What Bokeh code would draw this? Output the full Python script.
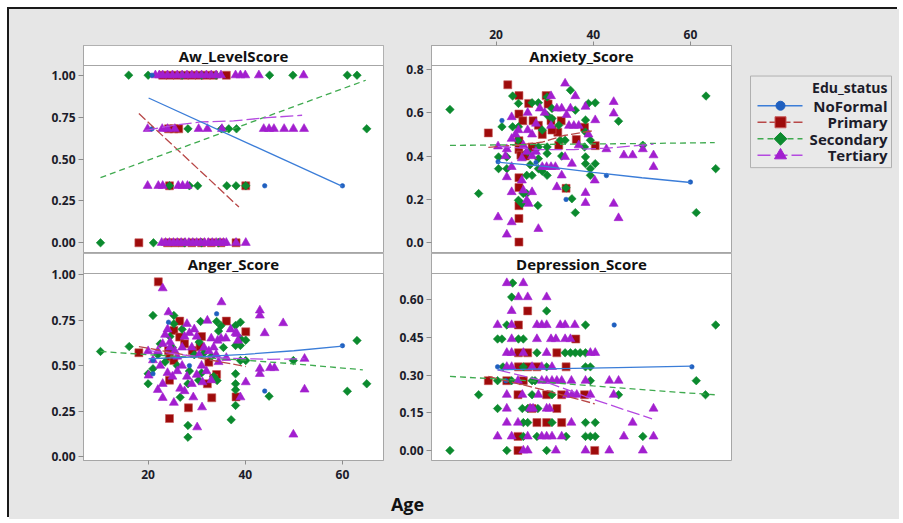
from bokeh.plotting import figure
from bokeh.models import Range1d, FixedTicker, PrintfTickFormatter
from bokeh.layouts import row, column
from bokeh.core.properties import value
from bokeh.embed import file_html
from bokeh.resources import INLINE
import math

# ---------------- data ----------------
GROUPS = ["NoFormal", "Primary", "Secondary", "Tertiary"]
LEGEND_TITLE = "Edu_status"
X_LABEL = "Age"
PANEL_TITLES = ["Aw_LevelScore", "Anxiety_Score", "Anger_Score", "Depression_Score"]
X_TICKS = [20, 40, 60]
AW_TICKS = [0.0, 0.25, 0.5, 0.75, 1.0]
AX_TICKS = [0.0, 0.2, 0.4, 0.6, 0.8]
AN_TICKS = [0.0, 0.25, 0.5, 0.75, 1.0]
DP_TICKS = [0.0, 0.15, 0.30, 0.45, 0.60]

# Aw_LevelScore (age, score)
AW_NOFORMAL = [(20.8, 1.0), (20.8, 0.68), (44.0, 0.34), (60.0, 0.34)]
AW_PRIMARY = [(23.0, 1.0), (24.5, 1.0), (26.0, 1.0), (27.5, 1.0), (29.0, 1.0), (30.5, 1.0), (32.0, 1.0),
              (33.5, 1.0), (36.1, 1.0), (24.2, 0.68), (25.3, 0.68), (26.3, 0.68), (24.4, 0.34), (40.1, 0.34),
              (18.1, 0.0), (24.0, 0.0), (25.5, 0.0), (27.0, 0.0), (29.0, 0.0), (31.0, 0.0), (33.0, 0.0),
              (35.0, 0.0), (38.1, 0.0)]
AW_SECONDARY = [(16.0, 1.0), (20.0, 1.0), (27.0, 1.0), (31.0, 1.0), (34.0, 1.0), (45.0, 1.0), (49.8, 1.0),
                (61.0, 1.0), (63.0, 1.0), (28.2, 0.68), (35.1, 0.68), (36.6, 0.68), (38.2, 0.68), (65.0, 0.68),
                (24.4, 0.34), (28.5, 0.34), (30.2, 0.34), (36.2, 0.34), (38.1, 0.34), (40.1, 0.34),
                (10.2, 0.0), (21.1, 0.0), (27.5, 0.0), (31.0, 0.0), (34.5, 0.0)]
AW_TERTIARY = [(21.5, 1.0), (22.3, 1.0), (23.0, 1.0), (24.0, 1.0), (25.0, 1.0), (26.0, 1.0), (27.0, 1.0),
               (28.0, 1.0), (29.0, 1.0), (30.0, 1.0), (31.0, 1.0), (32.0, 1.0), (33.0, 1.0), (34.0, 1.0),
               (35.0, 1.0), (38.0, 1.0), (39.0, 1.0), (40.0, 1.0), (42.8, 1.0), (52.0, 1.0),
               (19.9, 0.68), (22.9, 0.68), (24.0, 0.68), (25.5, 0.68), (30.4, 0.68), (32.2, 0.68), (35.2, 0.68),
               (43.8, 0.68), (44.9, 0.68), (45.9, 0.68), (48.0, 0.68), (49.9, 0.68), (52.1, 0.68),
               (19.9, 0.34), (22.1, 0.34), (23.0, 0.34), (26.2, 0.34), (27.1, 0.34), (28.1, 0.34),
               (22.8, 0.0), (23.6, 0.0), (24.4, 0.0), (25.2, 0.0), (26.0, 0.0), (26.8, 0.0), (27.6, 0.0),
               (28.4, 0.0), (29.2, 0.0), (30.0, 0.0), (30.8, 0.0), (31.6, 0.0), (32.4, 0.0), (33.2, 0.0),
               (34.0, 0.0), (34.8, 0.0), (35.5, 0.0), (36.1, 0.0), (38.1, 0.0), (40.1, 0.0)]
AW_FIT_NOFORMAL = [(20.1, 0.864), (60.0, 0.337)]
AW_FIT_PRIMARY = [(18.1, 0.771), (38.7, 0.213)]
AW_FIT_SECONDARY = [(10.2, 0.389), (37.5, 0.680), (64.8, 0.970)]
AW_FIT_TERTIARY = [(19.4, 0.671), (25.3, 0.701), (30.8, 0.721), (37.6, 0.727), (44.5, 0.747), (51.7, 0.761)]

# Anxiety_Score
AX_NOFORMAL = [(21.2, 0.564), (20.4, 0.374), (28.2, 0.370), (34.4, 0.200), (42.7, 0.310), (60.0, 0.280)]
AX_PRIMARY = [(22.4, 0.729), (18.4, 0.507), (24.7, 0.679), (24.7, 0.594), (25.5, 0.563), (26.7, 0.643),
              (27.6, 0.563), (28.7, 0.542), (30.3, 0.679), (30.7, 0.640), (31.3, 0.563), (33.4, 0.563),
              (32.7, 0.510), (38.2, 0.533), (36.5, 0.476), (40.4, 0.448), (24.7, 0.471), (24.7, 0.430),
              (25.1, 0.404), (27.4, 0.442), (26.0, 0.400), (24.7, 0.300), (24.7, 0.255), (24.7, 0.171),
              (24.7, 0.112), (24.7, 0.003), (34.4, 0.251), (32.9, 0.450), (29.5, 0.500), (31.5, 0.520)]
AX_SECONDARY = [(10.5, 0.615), (16.4, 0.227), (23.4, 0.677), (24.6, 0.643), (21.2, 0.535), (20.5, 0.396),
                (22.2, 0.396), (20.5, 0.342), (22.2, 0.342), (23.4, 0.535), (24.6, 0.535), (24.5, 0.473),
                (24.6, 0.196), (25.3, 0.180), (25.6, 0.227), (26.3, 0.227), (26.3, 0.311), (27.4, 0.311),
                (27.4, 0.646), (28.7, 0.646), (28.6, 0.172), (28.7, 0.388), (28.7, 0.442), (30.5, 0.412),
                (30.5, 0.442), (28.7, 0.342), (30.5, 0.311), (30.5, 0.589), (30.5, 0.673), (31.5, 0.620),
                (31.5, 0.573), (32.9, 0.542), (33.2, 0.473), (34.2, 0.473), (34.4, 0.253), (35.3, 0.704),
                (36.3, 0.612), (36.3, 0.139), (35.6, 0.203), (38.4, 0.566), (38.4, 0.511), (38.2, 0.442),
                (38.4, 0.396), (38.4, 0.365), (39.0, 0.643), (40.4, 0.646), (39.4, 0.473), (39.4, 0.342),
                (39.4, 0.311), (40.4, 0.365), (45.2, 0.561), (50.2, 0.450), (63.2, 0.677), (61.2, 0.139),
                (65.2, 0.342), (26.5, 0.420), (29.5, 0.520), (27.0, 0.360), (33.5, 0.400), (29.5, 0.330)]
AX_TERTIARY = [(34.2, 0.735), (36.3, 0.677), (31.3, 0.677), (23.2, 0.580), (23.2, 0.480), (22.2, 0.432),
               (20.4, 0.445), (21.9, 0.400), (23.2, 0.350), (22.2, 0.303), (25.3, 0.288), (25.6, 0.242),
               (23.2, 0.234), (26.3, 0.196), (27.4, 0.234), (26.7, 0.180), (20.4, 0.118), (23.2, 0.095),
               (22.2, 0.038), (28.7, 0.064), (32.5, 0.257), (33.5, 0.311), (32.2, 0.350), (35.6, 0.365),
               (34.2, 0.396), (38.4, 0.230), (38.4, 0.184), (40.3, 0.288), (44.2, 0.650), (44.2, 0.597),
               (44.2, 0.180), (45.2, 0.114), (42.7, 0.432), (46.3, 0.404), (48.1, 0.404), (50.2, 0.432),
               (52.4, 0.404), (52.4, 0.350), (40.4, 0.566), (38.4, 0.628), (33.5, 0.620), (35.3, 0.620),
               (34.5, 0.590), (36.0, 0.540), (30.0, 0.600), (29.0, 0.620), (28.2, 0.550), (26.5, 0.520),
               (24.6, 0.520), (27.4, 0.500), (31.3, 0.540), (32.5, 0.620), (25.6, 0.450), (26.3, 0.420),
               (27.4, 0.400), (28.2, 0.420), (25.3, 0.390), (29.5, 0.350), (30.4, 0.350), (31.3, 0.350),
               (26.5, 0.600), (24.0, 0.500), (35.0, 0.540), (37.0, 0.540), (39.0, 0.500), (37.0, 0.450)]
AX_FIT_NOFORMAL = [(20.3, 0.372), (30.0, 0.352), (40.0, 0.325), (50.0, 0.300), (60.0, 0.278)]
AX_FIT_PRIMARY = [(18.4, 0.440), (25.0, 0.452), (29.6, 0.465), (34.0, 0.495), (40.3, 0.518)]
AX_FIT_SECONDARY = [(10.5, 0.449), (30.0, 0.454), (50.0, 0.458), (65.0, 0.462)]
AX_FIT_TERTIARY = [(20.4, 0.445), (29.0, 0.430), (36.0, 0.430), (43.0, 0.437), (52.4, 0.455)]

# Anger_Score
AN_NOFORMAL = [(24.2, 0.739), (34.1, 0.785), (21.0, 0.528), (21.0, 0.455), (28.5, 0.500), (44.0, 0.360),
               (60.0, 0.610)]
AN_PRIMARY = [(22.1, 0.961), (18.1, 0.571), (24.4, 0.209), (28.3, 0.268), (33.1, 0.323), (38.1, 0.328),
              (32.2, 0.400), (34.1, 0.451), (24.4, 0.420), (26.5, 0.745), (36.1, 0.745), (40.1, 0.686),
              (25.3, 0.694), (24.4, 0.549), (25.3, 0.528), (26.5, 0.657), (29.1, 0.583), (30.7, 0.604),
              (32.5, 0.519), (24.2, 0.583), (33.5, 0.430), (27.5, 0.620), (31.0, 0.660)]
AN_SECONDARY = [(10.2, 0.578), (16.1, 0.605), (21.0, 0.776), (25.3, 0.776), (20.0, 0.400), (20.0, 0.455),
                (21.0, 0.483), (28.2, 0.171), (28.2, 0.106), (26.6, 0.326), (30.8, 0.743), (34.1, 0.743),
                (38.0, 0.721), (39.0, 0.739), (39.0, 0.648), (40.1, 0.640), (38.0, 0.611), (39.0, 0.611),
                (38.0, 0.455), (38.0, 0.400), (38.0, 0.367), (38.0, 0.281), (37.1, 0.202), (39.0, 0.528),
                (40.1, 0.528), (44.9, 0.332), (49.9, 0.528), (61.0, 0.359), (63.0, 0.638), (65.0, 0.400),
                (30.4, 0.420), (28.2, 0.400), (34.2, 0.418), (35.0, 0.720), (25.3, 0.730), (22.5, 0.620),
                (24.5, 0.660), (27.0, 0.700), (29.5, 0.560), (31.5, 0.570), (33.0, 0.550), (34.5, 0.690),
                (35.5, 0.600), (22.0, 0.560), (23.5, 0.520), (26.0, 0.500), (28.5, 0.470), (31.0, 0.460),
                (33.5, 0.440), (25.0, 0.600), (30.5, 0.630)]
AN_TERTIARY = [(23.0, 0.926), (35.1, 0.849), (43.0, 0.804), (43.0, 0.776), (47.8, 0.734), (44.0, 0.679),
               (24.2, 0.794), (43.0, 0.483), (43.0, 0.455), (45.1, 0.487), (46.0, 0.487), (52.2, 0.538),
               (52.2, 0.369), (49.9, 0.121), (40.1, 0.409), (39.0, 0.326), (31.1, 0.271), (30.1, 0.161),
               (25.3, 0.296), (23.0, 0.323), (22.0, 0.367), (20.1, 0.446), (26.6, 0.374), (29.3, 0.326),
               (31.2, 0.409), (36.1, 0.543), (38.5, 0.638), (38.3, 0.675), (34.3, 0.638), (32.2, 0.748),
               (28.0, 0.730), (22.0, 0.580), (23.0, 0.620), (23.5, 0.670), (24.0, 0.700), (24.5, 0.630),
               (25.5, 0.580), (26.0, 0.550), (27.0, 0.600), (27.5, 0.660), (28.5, 0.680), (29.0, 0.600),
               (29.5, 0.700), (30.5, 0.560), (31.5, 0.600), (32.5, 0.580), (33.0, 0.650), (33.5, 0.600),
               (34.0, 0.560), (35.0, 0.650), (36.0, 0.650), (37.0, 0.700), (38.0, 0.680), (22.5, 0.500),
               (24.0, 0.460), (25.0, 0.440), (26.0, 0.470), (27.0, 0.500), (28.0, 0.440), (29.0, 0.400),
               (30.0, 0.450), (31.0, 0.500), (32.0, 0.470), (33.0, 0.420), (34.5, 0.520), (21.0, 0.530),
               (20.0, 0.580), (23.0, 0.400), (27.5, 0.360), (24.5, 0.600), (30.0, 0.660)]
AN_FIT_NOFORMAL = [(20.1, 0.538), (30.0, 0.548), (40.0, 0.562), (50.0, 0.582), (60.0, 0.607)]
AN_FIT_PRIMARY = [(18.1, 0.605), (25.0, 0.572), (32.0, 0.535), (40.1, 0.495)]
AN_FIT_SECONDARY = [(10.2, 0.578), (20.0, 0.560), (30.0, 0.545), (40.0, 0.530), (50.0, 0.510), (64.2, 0.477)]
AN_FIT_TERTIARY = [(20.1, 0.583), (28.0, 0.556), (36.0, 0.541), (45.0, 0.535), (52.2, 0.538)]

# Depression_Score
DP_NOFORMAL = [(20.3, 0.333), (22.0, 0.278), (44.3, 0.5), (60.3, 0.333)]
DP_PRIMARY = [(26.5, 0.556), (24.6, 0.5), (36.4, 0.444), (24.6, 0.389), (26.5, 0.389), (32.5, 0.389),
              (24.6, 0.333), (26.5, 0.333), (28.4, 0.333), (34.4, 0.333), (18.4, 0.278), (22.2, 0.278),
              (25.6, 0.278), (24.5, 0.222), (30.4, 0.222), (33.5, 0.222), (38.2, 0.222), (27.4, 0.167),
              (32.5, 0.167), (28.4, 0.111), (30.4, 0.111), (33.5, 0.111), (24.5, 0.056), (24.5, 0.0),
              (40.3, 0.0)]
DP_SECONDARY = [(23.4, 0.667), (23.2, 0.611), (30.4, 0.556), (22.2, 0.5), (38.4, 0.5), (65.2, 0.5),
                (20.3, 0.444), (21.2, 0.444), (24.6, 0.444), (25.6, 0.444), (28.4, 0.389), (34.2, 0.389),
                (35.3, 0.389), (36.3, 0.389), (37.3, 0.389), (38.4, 0.389), (21.4, 0.333), (25.6, 0.333),
                (30.4, 0.333), (38.4, 0.333), (39.4, 0.333), (20.3, 0.278), (23.2, 0.278), (27.4, 0.278),
                (28.0, 0.278), (39.4, 0.278), (61.2, 0.278), (16.4, 0.222), (27.4, 0.222), (31.5, 0.222),
                (45.2, 0.222), (63.1, 0.222), (20.3, 0.167), (25.4, 0.167), (26.5, 0.167), (28.6, 0.167),
                (25.6, 0.111), (26.5, 0.111), (31.5, 0.111), (38.4, 0.111), (40.4, 0.111), (25.6, 0.056),
                (28.4, 0.056), (34.4, 0.056), (38.4, 0.056), (39.4, 0.056), (40.4, 0.056), (50.2, 0.056),
                (10.5, 0.0), (22.2, 0.0), (30.4, 0.0)]
DP_TERTIARY = [(22.2, 0.667), (25.6, 0.667), (24.6, 0.611), (26.5, 0.611), (30.4, 0.611), (23.2, 0.556),
               (20.3, 0.5), (23.2, 0.5), (28.4, 0.5), (29.4, 0.5), (30.4, 0.5), (33.2, 0.5), (34.2, 0.5),
               (36.2, 0.5), (23.2, 0.444), (28.4, 0.444), (31.3, 0.444), (32.3, 0.444), (34.2, 0.444),
               (35.3, 0.444), (22.2, 0.389), (23.2, 0.389), (25.6, 0.389), (30.4, 0.389), (39.4, 0.389),
               (40.4, 0.389), (22.2, 0.333), (23.2, 0.333), (27.4, 0.333), (29.4, 0.333), (31.5, 0.333),
               (24.5, 0.278), (29.4, 0.278), (30.4, 0.278), (31.5, 0.278), (32.5, 0.278), (33.5, 0.278),
               (35.5, 0.278), (38.4, 0.278), (43.3, 0.278), (45.2, 0.278), (22.2, 0.222), (25.4, 0.222),
               (28.7, 0.222), (34.6, 0.222), (35.6, 0.222), (36.6, 0.222), (39.4, 0.222), (44.2, 0.222),
               (22.2, 0.167), (27.0, 0.167), (27.6, 0.167), (30.4, 0.167), (31.0, 0.167), (52.4, 0.167),
               (22.2, 0.111), (24.5, 0.111), (35.5, 0.111), (48.1, 0.111), (20.3, 0.056), (23.2, 0.056),
               (26.5, 0.056), (29.4, 0.056), (30.4, 0.056), (31.5, 0.056), (33.5, 0.056), (46.3, 0.056),
               (52.4, 0.056), (25.6, 0.0), (26.5, 0.0), (32.3, 0.0), (38.4, 0.0), (43.3, 0.0), (50.2, 0.0)]
DP_FIT_NOFORMAL = [(20.3, 0.321), (30.0, 0.325), (45.0, 0.330), (60.3, 0.336)]
DP_FIT_PRIMARY = [(18.4, 0.295), (30.0, 0.240), (40.3, 0.186)]
DP_FIT_SECONDARY = [(10.5, 0.295), (25.0, 0.280), (40.0, 0.257), (55.0, 0.235), (65.0, 0.222)]
DP_FIT_TERTIARY = [(20.3, 0.321), (29.4, 0.279), (39.7, 0.206), (46.0, 0.165), (52.1, 0.126)]

# ---------------- styles ----------------
BG = "#e6e6e6"
FRAME = "#a6a6a6"
TEXT = "#1c1c2a"
FONT = "Open Sans"
MARKERS = ["circle", "square", "square", "triangle"]
ANGLES = [0.0, 0.0, math.pi / 4, 0.0]
SIZES = [4.5, 8, 6, 9]
LEG_SIZES = [9, 11, 9, 12]
FILLS = ["#1f5fbf", "#9e0b0b", "#0b8a2e", "#a21fcf"]
EDGES = ["#1f5fbf", "#c85a5a", "#0b8a2e", "#a21fcf"]
LINE_COLORS = ["#3b7dd8", "#b84848", "#3faa4f", "#b44ae0"]
DASHES = ["solid", "9 3", "6 4", "13 4"]
DRAW_ORDER = [1, 2, 3, 0]
XLO, XHI = 6.7, 68.45
STRIP = 20


def panel(title, pts, fits, ylo, yhi, yticks, yfmt, width, height, mb, xaxis, std):
    frame_h = height - mb[0] - mb[2]
    data_h = frame_h - STRIP
    ytop = yhi + (yhi - ylo) * STRIP / data_h
    p = figure(width=width, height=height, x_range=Range1d(XLO, XHI), y_range=Range1d(ylo, ytop),
               min_border_top=mb[0], min_border_right=mb[1], min_border_bottom=mb[2], min_border_left=mb[3],
               x_axis_location=xaxis, y_axis_location="left", toolbar_location=None,
               output_backend="svg", title=None, background_fill_color="white",
               border_fill_color=BG, outline_line_color=FRAME)
    p.grid.visible = False
    p.quad(left=[XLO], right=[XHI], bottom=[yhi], top=[ytop], fill_color="white", line_color=FRAME)
    p.text(x=[(XLO + XHI) / 2], y=[(yhi + ytop) / 2], text=[title], text_align="center",
           text_baseline="middle", text_font=value(FONT), text_font_size="15px",
           text_font_style="bold", text_color="#111111")
    for i in DRAW_ORDER:
        p.scatter(x=[a for a, _ in pts[i]], y=[v for _, v in pts[i]], marker=MARKERS[i], size=SIZES[i],
                  angle=ANGLES[i], fill_color=FILLS[i], line_color=EDGES[i], line_width=0.6)
    for i in DRAW_ORDER:
        p.line(x=[a for a, _ in fits[i]], y=[v for _, v in fits[i]], line_color=LINE_COLORS[i],
               line_dash=DASHES[i], line_width=1.3)
    p.yaxis.ticker = FixedTicker(ticks=yticks)
    p.yaxis.formatter = PrintfTickFormatter(format=yfmt)
    p.yaxis.major_label_standoff = 3
    p.yaxis.major_tick_out = 5
    if xaxis is not None:
        p.xaxis.ticker = FixedTicker(ticks=X_TICKS)
        p.xaxis.major_label_standoff = std
        p.xaxis.major_tick_out = 4
    for ax in p.axis:
        ax.axis_line_color = FRAME
        ax.major_tick_line_color = "#8c8c8c"
        ax.major_tick_in = 0
        ax.minor_tick_line_color = None
        ax.major_label_text_font = FONT
        ax.major_label_text_font_size = "12px"
        ax.major_label_text_font_style = "bold"
        ax.major_label_text_color = TEXT
    return p


def blank(w, h, color):
    b = figure(width=w, height=h, min_border=0, toolbar_location=None, output_backend="svg", title=None,
               x_axis_location=None, y_axis_location=None, background_fill_color=color,
               border_fill_color=color, outline_line_color=None)
    b.grid.visible = False
    return b


# column widths / row heights (content starts inside the black frame at 9,9)
WA, WB, WC = 381, 350, 159
H1, H2, H3 = 244, 233, 33

tl = panel(PANEL_TITLES[0], [AW_NOFORMAL, AW_PRIMARY, AW_SECONDARY, AW_TERTIARY],
           [AW_FIT_NOFORMAL, AW_FIT_PRIMARY, AW_FIT_SECONDARY, AW_FIT_TERTIARY],
           -0.058, 1.058, AW_TICKS, "%.2f", WA, H1, (36, 7, 1, 74), None, 3)
tr = panel(PANEL_TITLES[1], [AX_NOFORMAL, AX_PRIMARY, AX_SECONDARY, AX_TERTIARY],
           [AX_FIT_NOFORMAL, AX_FIT_PRIMARY, AX_FIT_SECONDARY, AX_FIT_TERTIARY],
           -0.045, 0.818, AX_TICKS, "%.1f", WB, H1, (36, 9, 1, 41), "above", 3)
bl = panel(PANEL_TITLES[2], [AN_NOFORMAL, AN_PRIMARY, AN_SECONDARY, AN_TERTIARY],
           [AN_FIT_NOFORMAL, AN_FIT_PRIMARY, AN_FIT_SECONDARY, AN_FIT_TERTIARY],
           -0.022, 1.007, AN_TICKS, "%.2f", WA, H2, (0, 7, 26, 74), "below", 5)
br = panel(PANEL_TITLES[3], [DP_NOFORMAL, DP_PRIMARY, DP_SECONDARY, DP_TERTIARY],
           [DP_FIT_NOFORMAL, DP_FIT_PRIMARY, DP_FIT_SECONDARY, DP_FIT_TERTIARY],
           -0.040, 0.705, DP_TICKS, "%.2f", WB, H2, (0, 9, 26, 41), None, 3)

# legend panel (local pixel-like coordinates, y downwards)
lg = figure(width=WC, height=H1, x_range=Range1d(0, WC), y_range=Range1d(H1, 0), min_border=0,
            toolbar_location=None, output_backend="svg", title=None, x_axis_location=None,
            y_axis_location=None, background_fill_color=BG, border_fill_color=BG, outline_line_color=None)
lg.grid.visible = False
box_l, box_r, box_t, box_b = 10, 151, 36, 144
lg.quad(left=[box_l], right=[box_r], top=[box_t], bottom=[box_b], fill_color="#e9e9e9", line_color="#b0b0b0")
text_x = box_r - 4
lg.text(x=[text_x], y=[box_t + 14], text=[LEGEND_TITLE], text_align="right", text_baseline="middle",
        text_font=value(FONT), text_font_size="14px", text_font_style="bold", text_color=TEXT)
for i, g in enumerate(GROUPS):
    yy = box_t + 35 + 19.5 * i
    lg.line(x=[box_l + 7, box_l + 52], y=[yy, yy], line_color=LINE_COLORS[i], line_dash=DASHES[i],
            line_width=1.5)
    lg.scatter(x=[box_l + 30], y=[yy], marker=MARKERS[i], angle=ANGLES[i], size=LEG_SIZES[i],
               fill_color=FILLS[i], line_color=EDGES[i])
    lg.text(x=[text_x], y=[yy], text=[g], text_align="right", text_baseline="middle",
            text_font=value(FONT), text_font_size="15px", text_font_style="bold", text_color=TEXT)

filler = blank(WC, H2, BG)

# x-axis title row
AWID = WA + WB + WC
ag = figure(width=AWID, height=H3, x_range=Range1d(0, AWID), y_range=Range1d(H3, 0), min_border=0,
            toolbar_location=None, output_backend="svg", title=None, x_axis_location=None,
            y_axis_location=None, background_fill_color=BG, border_fill_color=BG, outline_line_color=None)
ag.grid.visible = False
ag.text(x=[398], y=[17.5], text=[X_LABEL], text_align="center", text_baseline="alphabetic",
        text_font=value(FONT), text_font_size="18px", text_font_style="bold", text_color="#111111")

layout = column(row(tl, tr, lg, styles={"background-color": BG}),
                row(bl, br, filler, styles={"background-color": BG}),
                ag, margin=(9, 0, 0, 9),
                styles={"background-color": BG, "box-shadow": "-2px -2px 0 0 #1a1a1a"})

open("out.html", "w").write(file_html(layout, INLINE))
